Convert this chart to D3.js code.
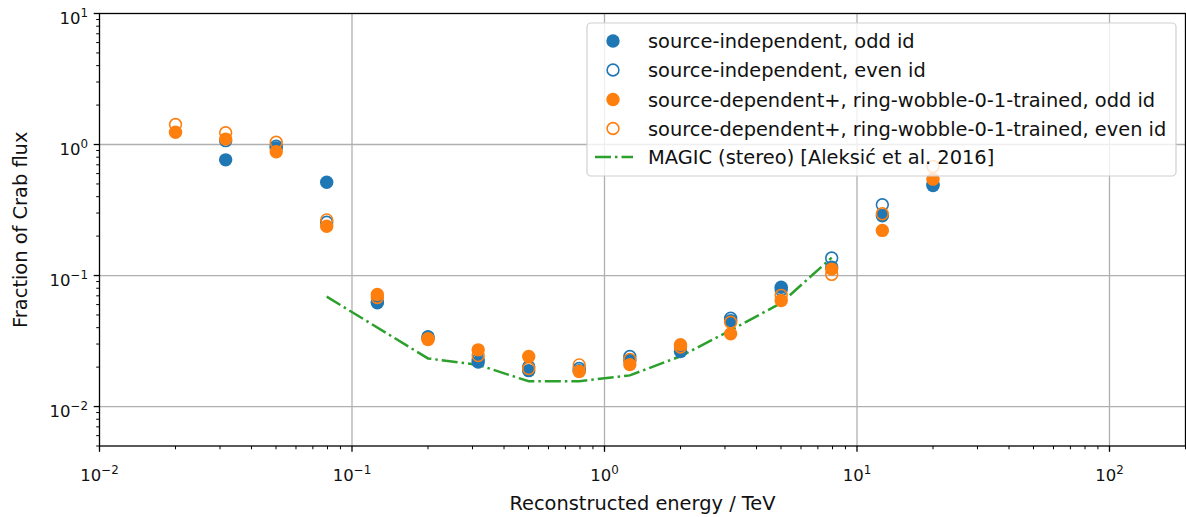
<!DOCTYPE html>
<html><head><meta charset="utf-8">
<script src="https://cdn.jsdelivr.net/npm/d3@7"></script>
<style>body{margin:0;background:#fff}svg{display:block;font-family:"DejaVu Sans",sans-serif}</style>
</head><body><svg id="c" width="1186" height="517"></svg>
<script>
const energy = [0.02, 0.0316, 0.0501, 0.0794, 0.126, 0.2, 0.316, 0.501, 0.794, 1.26, 2.0, 3.16, 5.01, 7.94, 12.6, 20.0];
const siOdd  = [null, 0.764, 0.94, 0.515, 0.062, 0.034, 0.0219, 0.0188, 0.0188, 0.0225, 0.0263, 0.0453, 0.0814, 0.116, 0.286, 0.487];
const siEven = [null, 1.07, 0.97, 0.255, 0.063, 0.034, 0.0228, 0.0201, 0.0195, 0.0241, 0.029, 0.0472, 0.078, 0.136, 0.347, 0.50];
const sdOdd  = [1.24, 1.10, 0.88, 0.238, 0.0716, 0.0325, 0.0271, 0.0241, 0.0185, 0.0209, 0.0297, 0.0359, 0.0645, 0.112, 0.221, 0.544];
const sdEven = [1.42, 1.23, 1.04, 0.266, 0.068, 0.033, 0.0245, 0.0195, 0.0208, 0.0229, 0.0285, 0.044, 0.0706, 0.102, 0.296, 0.679];
const magicE = [0.0794, 0.2, 0.316, 0.501, 0.794, 1.26, 2.0, 3.16, 5.01, 7.94];
const magicF = [0.069, 0.0233, 0.0208, 0.0156, 0.0156, 0.0173, 0.0242, 0.0382, 0.0618, 0.137];
const xTickExp = [-2, -1, 0, 1, 2];
const yTickExp = [-2, -1, 0, 1];
const legendLabels = ["source-independent, odd id", "source-independent, even id",
  "source-dependent+, ring-wobble-0-1-trained, odd id", "source-dependent+, ring-wobble-0-1-trained, even id",
  "MAGIC (stereo) [Aleksić et al. 2016]"];
const xLabel = "Reconstructed energy / TeV";
const yLabel = "Fraction of Crab flux";

const blue = "#1f77b4", orange = "#ff7f0e", green = "#2ca02c";
const L = 99.5, T = 13.5, R = 1185.5, B = 446;
const svg = d3.select("#c");
const x = d3.scaleLog().domain([0.01, 200]).range([L, R]);
const y = d3.scaleLog().domain([0.005, 10]).range([B, T]);
const FS = 16.5;   // tick labels
const LFS = 19.4;  // legend and axis labels

// grid
const g = svg.append("g");
xTickExp.forEach(e => { const v = Math.pow(10, e); if (v > 0.01 && v < 200)
  g.append("line").attr("x1", x(v)).attr("x2", x(v)).attr("y1", T).attr("y2", B).attr("stroke", "#b0b0b0").attr("stroke-width", 1.3); });
yTickExp.forEach(e => { const v = Math.pow(10, e); if (v < 10)
  g.append("line").attr("x1", L).attr("x2", R).attr("y1", y(v)).attr("y2", y(v)).attr("stroke", "#b0b0b0").attr("stroke-width", 1.3); });

// MAGIC line
const line = d3.line().x(d => x(d[0])).y(d => y(d[1]));
svg.append("path").datum(magicE.map((e, i) => [e, magicF[i]])).attr("d", line)
  .attr("fill", "none").attr("stroke", green).attr("stroke-width", 2.5)
  .attr("stroke-dasharray", "16,4,2.5,4");

// points
function pts(vals, col, filled) {
  const d = energy.map((e, i) => [e, vals[i]]).filter(p => p[1] != null);
  svg.append("g").selectAll("circle").data(d).join("circle")
    .attr("cx", p => x(p[0])).attr("cy", p => y(p[1]))
    .attr("r", filled ? 6.7 : 5.9)
    .attr("fill", filled ? col : "none")
    .attr("stroke", filled ? "none" : col).attr("stroke-width", 1.6);
}
pts(siOdd, blue, true);
pts(siEven, blue, false);
pts(sdOdd, orange, true);
pts(sdEven, orange, false);

// frame
svg.append("rect").attr("x", L).attr("y", T).attr("width", R - L).attr("height", B - T)
  .attr("fill", "none").attr("stroke", "#000").attr("stroke-width", 1.3);

// ticks
const ax = svg.append("g");
for (let e = -2; e <= 2; e++) {
  for (let m = 1; m <= 9; m++) {
    const v = m * Math.pow(10, e);
    if (v < 0.01 || v > 200) continue;
    const len = m === 1 ? 5.8 : 3.3;
    ax.append("line").attr("x1", x(v)).attr("x2", x(v)).attr("y1", B).attr("y2", B + len).attr("stroke", "#000").attr("stroke-width", m === 1 ? 1.3 : 1);
  }
}
for (let e = -3; e <= 1; e++) {
  for (let m = 1; m <= 9; m++) {
    const v = m * Math.pow(10, e);
    if (v < 0.005 - 1e-9 || v > 10 + 1e-9) continue;
    const len = m === 1 ? 5.8 : 3.3;
    ax.append("line").attr("y1", y(v)).attr("y2", y(v)).attr("x1", L).attr("x2", L - len).attr("stroke", "#000").attr("stroke-width", m === 1 ? 1.3 : 1);
  }
}
function expLabel(sel, e) {
  sel.append("tspan").text("10");
  sel.append("tspan").attr("dy", -7).attr("font-size", FS * 0.72).text(e < 0 ? "\u2212" + (-e) : String(e));
}
xTickExp.forEach(e => {
  const t = ax.append("text").attr("x", x(Math.pow(10, e))).attr("y", 480.5)
    .attr("text-anchor", "middle").attr("font-size", FS).attr("fill", "#111");
  expLabel(t, e);
});
yTickExp.forEach(e => {
  const t = ax.append("text").attr("x", 88).attr("y", y(Math.pow(10, e)) + 10.5)
    .attr("text-anchor", "end").attr("font-size", FS).attr("fill", "#111");
  expLabel(t, e);
});

// axis labels
svg.append("text").attr("x", (L + R) / 2).attr("y", 510).attr("text-anchor", "middle")
  .attr("font-size", LFS).attr("fill", "#111").text(xLabel);
svg.append("text").attr("transform", `translate(27,${(T + B) / 2}) rotate(-90)`).attr("text-anchor", "middle")
  .attr("font-size", LFS).attr("fill", "#111").text(yLabel);

// legend
const lg = svg.append("g");
lg.append("rect").attr("x", 587).attr("y", 23).attr("width", 589).attr("height", 153).attr("rx", 4)
  .attr("fill", "#fff").attr("fill-opacity", 0.8).attr("stroke", "#d0d0d0").attr("stroke-width", 1.2);
const rowY = [41, 70, 99.5, 128.5, 157];
const kinds = [[blue, true], [blue, false], [orange, true], [orange, false]];
kinds.forEach((k, i) => {
  lg.append("circle").attr("cx", 613).attr("cy", rowY[i]).attr("r", k[1] ? 6.7 : 5.9)
    .attr("fill", k[1] ? k[0] : "none").attr("stroke", k[1] ? "none" : k[0]).attr("stroke-width", 1.6);
});
lg.append("line").attr("x1", 595).attr("x2", 633).attr("y1", rowY[4]).attr("y2", rowY[4])
  .attr("stroke", green).attr("stroke-width", 2.5).attr("stroke-dasharray", "16,4,2.5,4");
legendLabels.forEach((s, i) => {
  lg.append("text").attr("x", 648).attr("y", rowY[i] + 7).attr("font-size", LFS).attr("fill", "#111").text(s);
});
</script></body></html>
